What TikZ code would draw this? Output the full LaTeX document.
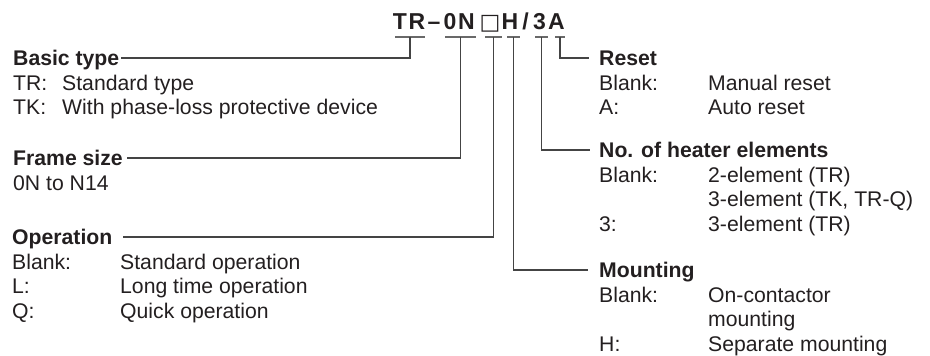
\documentclass[tikz,border=0pt]{standalone}
\usepackage{fontspec}
\setmainfont{Liberation Sans}
\newfontfamily\symfont{DejaVu Sans}
\usetikzlibrary{positioning,calc}
\definecolor{ink}{HTML}{231F20}
\definecolor{leadgray}{HTML}{444444}

\begin{document}
\begin{tikzpicture}[
    x=1pt, y=-1pt,
    head/.style={anchor=west, inner sep=0pt, text height=15pt, text depth=0pt, font=\fontsize{21.2}{24}\selectfont\bfseries, text=ink},
    item/.style={anchor=west, inner sep=0pt, text height=15pt, text depth=0pt, font=\fontsize{21.2}{24}\selectfont, text=ink},
    code/.style={inner sep=0pt, text height=17pt, text depth=0pt, font=\fontsize{23}{24}\selectfont\bfseries, text=ink},
    lead/.style={draw=leadgray, line width=1.1pt},
    bar/.style={draw=leadgray!80, line width=1.4pt}
]
\useasboundingbox (0,0) rectangle (930,356);

% Type code
\foreach \g/\x [count=\i] in {T/400, R/417, –/434, 0/450, N/466.5, {\symfont\fontsize{22}{24}\selectfont □}/490, H/510, {/}/525.5, 3/539.5, A/556.5}
    \node[code] (code\i) at (\x,21.5) {\g};

% Bars under the code letters
\foreach \n/\a/\b in {tr/395/425, on/445/476, sq/485/502, h/507/520, n3/535/548, a/555/565} {
    \draw[bar] (\a,37) -- (\b,37);
    \coordinate (\n) at ({(\a+\b)/2},37);
}

% Basic type
\node[head] (basic) at (13,58) {Basic type};
\node[item] (trkey) at (13,82.5) {TR:};
\node[item] (trval) at (62,82.5) {Standard type};
\node[item] (tkkey) at (13,107) {TK:};
\node[item] (tkval) at (62,107) {With phase-loss protective device};

% Frame size
\node[head] (frame) at (13,158) {Frame size};
\node[item] (frameval) at (13,182.5) {0N to N14};

% Operation
\node[head] (oper) at (12,237) {Operation};
\node[item] (opkey1) at (12,261.5) {Blank:};
\node[item] (opval1) at (120,261.5) {Standard operation};
\node[item] (opkey2) at (12,286) {L:};
\node[item] (opval2) at (120,286) {Long time operation};
\node[item] (opkey3) at (12,310.5) {Q:};
\node[item] (opval3) at (120,310.5) {Quick operation};

% Reset
\node[head] (reset) at (599,58) {Reset};
\node[item] (rskey1) at (599,82.5) {Blank:};
\node[item] (rsval1) at (708,82.5) {Manual reset};
\node[item] (rskey2) at (599,107) {A:};
\node[item] (rsval2) at (708,107) {Auto reset};

% No. of heater elements
\node[head] (heater) at (599,150) {No. of heater elements};
\node[item] (htkey1) at (599,174.5) {Blank:};
\node[item] (htval1) at (708,174.5) {2-element (TR)};
\node[item] (htval2) at (708,199) {3-element (TK, TR-Q)};
\node[item] (htkey3) at (599,223.5) {3:};
\node[item] (htval3) at (708,223.5) {3-element (TR)};

% Mounting
\node[head] (mount) at (599,270) {Mounting};
\node[item] (mtkey1) at (599,294.5) {Blank:};
\node[item] (mtval1) at (708,294.5) {On-contactor};
\node[item] (mtval2) at (708,319) {mounting};
\node[item] (mtkey3) at (599,343.5) {H:};
\node[item] (mtval3) at (708,343.5) {Separate mounting};

% Leader lines
\draw[lead] (tr) |- ([xshift=1.5pt]basic.east);
\draw[lead] (on) |- ([xshift=4pt]frame.east);
\draw[lead] (sq) |- ([xshift=10pt]oper.east);
\draw[lead] (h) |- ([xshift=-11pt]mount.west);
\draw[lead] (n3) |- ([xshift=-9pt]heater.west);
\draw[lead] (a) |- ([xshift=-10pt]reset.west);
\end{tikzpicture}
\end{document}
